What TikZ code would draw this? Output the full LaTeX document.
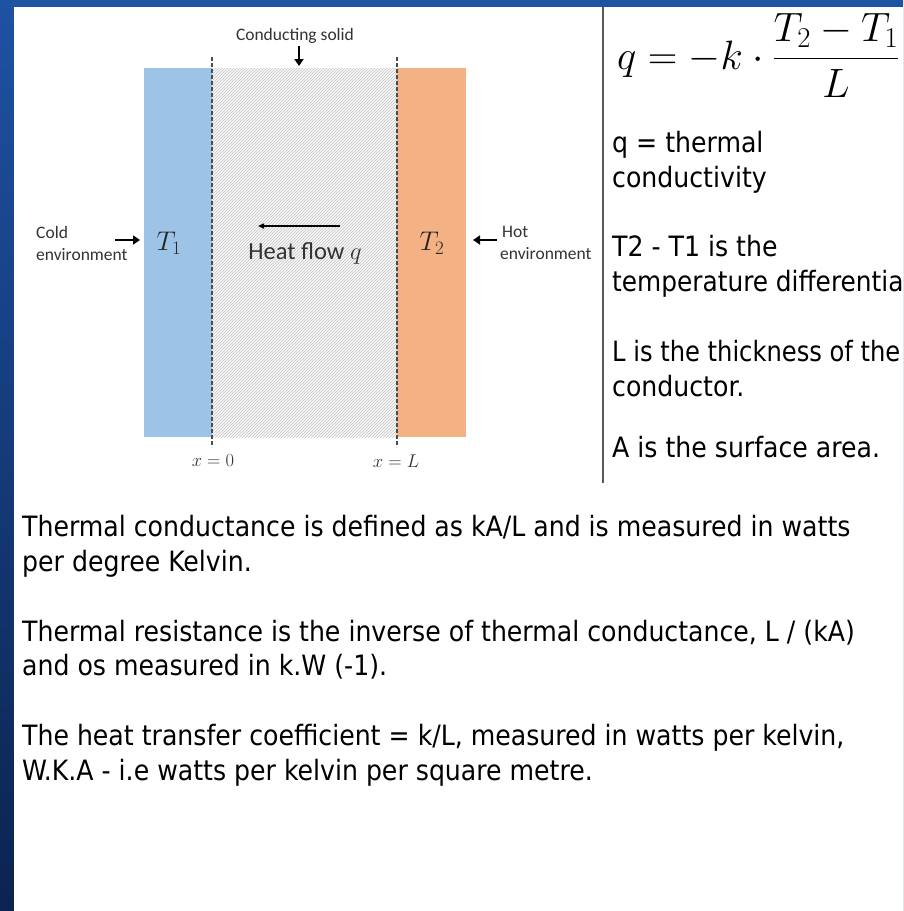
\RequirePackage{fix-cm}
\documentclass[tikz,border=0pt]{standalone}
\usepackage{fontspec}
\usepackage{amsmath}
\newfontfamily\tahfont{DejaVu Sans Condensed}
\newfontfamily\calfont{Carlito}
\usetikzlibrary{patterns,arrows.meta}
\definecolor{bgtop}{HTML}{1E52A2}
\definecolor{bgbot}{HTML}{0B2350}
\definecolor{coldblue}{HTML}{9DC3E6}
\definecolor{hotorange}{HTML}{F4B183}
\definecolor{inkgray}{HTML}{333333}
\tikzset{
  body/.style={font=\tahfont\fontsize{28}{35}\selectfont, text=black, anchor=base west, inner sep=0pt},
  small/.style={font=\calfont\fontsize{17.5}{22}\selectfont, text=inkgray, inner sep=0pt},
  mathlabel/.style={font=\fontsize{18.5}{22}\selectfont, text=inkgray},
  templabel/.style={font=\fontsize{27}{30}\selectfont, text=black!85},
  fatarrow/.style={-{Triangle[length=7pt,width=9pt]}, line width=2.6pt, black},
  thinarrow/.style={-{Triangle[length=6pt,width=5pt]}, line width=1.4pt, black},
  divider/.style={dash pattern=on 3.5pt off 2.5pt, line width=1.1pt, black!70},
}
\begin{document}
\begin{tikzpicture}[x=1pt,y=-1pt]
\useasboundingbox (0,0) rectangle (903,911);
% background
\shade[top color=bgtop, bottom color=bgbot] (0,0) rectangle (903,911);
\fill[white] (14,7) rectangle (903,911);

% slab
\fill[coldblue] (144,68) rectangle (212,437);
\fill[hotorange] (397,68) rectangle (466,437);
\fill[gray!6] (212,68) rectangle (397,437);
\fill[pattern=north east lines, pattern color=gray!45] (212,68) rectangle (397,437);
\coordinate (d0t) at (212,57); \coordinate (d0b) at (212,447);
\coordinate (dLt) at (397,57); \coordinate (dLb) at (397,447);
\draw[divider] (d0t) -- (d0b);
\draw[divider] (dLt) -- (dLb);

% labels in diagram
\node[small] (cs) at (295,36) {Conducting solid};
\coordinate (csa) at (299,66);
\coordinate (csb) at (299,46);
\draw[fatarrow] (csb) -- (csa);

\node[small, align=left, anchor=west] (cold) at (36,243) {Cold\\environment};
\coordinate (coldtip) at (140,240);
\coordinate (coldtail) at (115,240);
\draw[fatarrow] (coldtail) -- (coldtip);

\node[templabel] (t1) at (169,243) {$T_1$};
\node[templabel] (t2) at (432,243) {$T_2$};

\coordinate (hfa) at (340,226);
\coordinate (hfb) at (258,226);
\draw[thinarrow] (hfa) -- (hfb);
\node[font=\calfont\fontsize{24.5}{28}\selectfont, text=inkgray] (hf) at (305,253) {Heat flow $q$};

\node[small, align=left, anchor=west] (hot) at (500,243) {\hspace*{2pt}Hot\\environment};
\coordinate (hottail) at (497,240);
\coordinate (hottip) at (473,240);
\draw[fatarrow] (hottail) -- (hottip);

\node[mathlabel] (x0) at (213,461) {$x=0$};
\node[mathlabel] (xL) at (396,461) {$x=L$};

% separator
\coordinate (sept) at (603,7);
\coordinate (sepb) at (603,483);
\draw[line width=1.5pt, black!65] (sept) -- (sepb);

% formula
\node[anchor=base west, inner sep=0pt, font=\fontsize{41}{48}\selectfont] (eq) at (617,69)
  {$q=-k\cdot\dfrac{T_2-T_1}{L}$};

% right column
\node[body] (r1) at (612,152) {q = thermal};
\node[body] (r2) at (612,187) {conductivity};
\node[body] (r3) at (612,256) {T2 - T1 is the};
\node[body, xscale=0.985] (r4) at (612,291) {temperature differentia};
\node[body, xscale=0.96] (r5) at (612,361) {L is the thickness of the};
\node[body] (r6) at (612,396) {conductor.};
\node[body] (r7) at (612,457) {A is the surface area.};

% bottom text
\node[body] (b1) at (22,536) {Thermal conductance is defined as kA/L and is measured in watts};
\node[body] (b2) at (22,571) {per degree Kelvin.};
\node[body] (b3) at (22,641) {Thermal resistance is the inverse of thermal conductance, L / (kA)};
\node[body] (b4) at (22,675) {and os measured in k.W (-1).};
\node[body] (b5) at (22,745) {The heat transfer coefficient = k/L, measured in watts per kelvin,};
\node[body] (b6) at (22,780) {W.K.A - i.e watts per kelvin per square metre.};
\end{tikzpicture}
\end{document}
